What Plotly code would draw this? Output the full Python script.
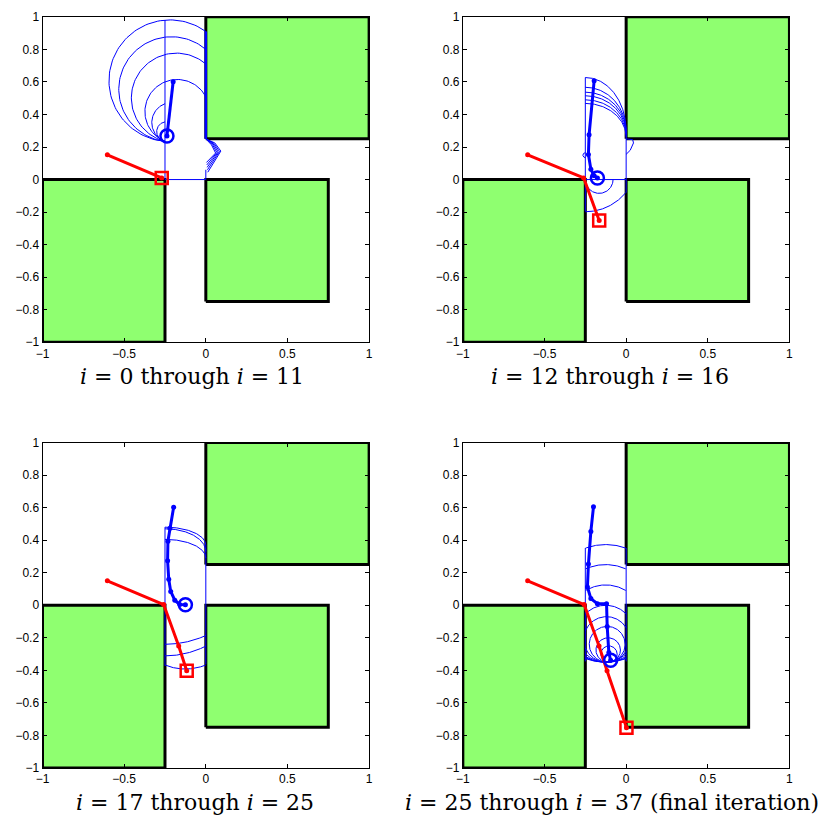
import numpy as np
import plotly.graph_objects as go

# ---------------- data ----------------
# obstacles (rectangles)
obs_x0 = [-1.0, 0.0, 0.0]
obs_x1 = [-0.25, 0.75, 1.0]
obs_y0 = [-1.0, -0.75, 0.25]
obs_y1 = [0.0, 0.0, 1.0]

x_tickvals = [-1, -0.5, 0, 0.5, 1]
x_ticktext = ["\u22121", "\u22120.5", "0", "0.5", "1"]
y_tickvals = [-1, -0.8, -0.6, -0.4, -0.2, 0, 0.2, 0.4, 0.6, 0.8, 1]
y_ticktext = ["\u22121", "\u22120.8", "\u22120.6", "\u22120.4", "\u22120.2", "0",
              "0.2", "0.4", "0.6", "0.8", "1"]

captions = [
    "<i>i</i> = 0 through <i>i</i> = 11",
    "<i>i</i> = 12 through <i>i</i> = 16",
    "<i>i</i> = 17 through <i>i</i> = 25",
    "<i>i</i> = 25 through <i>i</i> = 37 (final iteration)",
]

# red trajectories
red_x1 = [-0.603, -0.27]
red_y1 = [0.152, 0.01]
red_x2 = [-0.603, -0.26, -0.165]
red_y2 = [0.152, 0.01, -0.252]
red_x3 = [-0.603, -0.258, -0.166, -0.117]
red_y3 = [0.150, 0.004, -0.251, -0.402]
red_x4 = [-0.603, -0.257, -0.166, -0.117, 0.002]
red_y4 = [0.150, 0.004, -0.251, -0.402, -0.752]

# blue trajectories
blue_x1 = [-0.200, -0.238]
blue_y1 = [0.601, 0.268]
blue_x2 = [-0.196, -0.227, -0.231, -0.216, -0.196, -0.176]
blue_y2 = [0.607, 0.275, 0.154, 0.063, 0.023, 0.009]
blue_x3 = [-0.197, -0.220, -0.232, -0.234, -0.227, -0.215, -0.190, -0.160, -0.125]
blue_y3 = [0.603, 0.474, 0.394, 0.273, 0.160, 0.085, 0.031, 0.005, 0.003]
blue_x4 = [-0.200, -0.216, -0.231, -0.237, -0.216, -0.176, -0.120, -0.116, -0.106, -0.095]
blue_y4 = [0.605, 0.454, 0.253, 0.112, 0.041, 0.010, 0.010, -0.130, -0.291, -0.338]

# panel 1 region arcs (circles)
p1_cx = [-0.219, -0.210, -0.180, -0.175, -0.207, -0.240]
p1_cy = [0.607, 0.5545, 0.501, 0.417, 0.350, 0.2945]
p1_r = [0.374, 0.323, 0.276, 0.198, 0.124, 0.061]
p1_t0 = [54.2, 49.5, 49.3, 27.9, 110.3, 99.4]
p1_t1 = [265.25, 262.9, 255.3, 247.7, 249.7, 260.6]
p1_vx = [-0.25, 0.0, 0.0]
p1_vy0 = [0.0, 0.25, 0.0]
p1_vy1 = [0.98, 0.91, 0.06]
p1_hy = [0.0]
p1_hx0 = [-0.25]
p1_hx1 = [0.0]
p1_edge_x = [0.0, 0.0]          # region boundary lying on the obstacle edge
p1_edge_y = [0.25, 0.91]
p1_bulge_x = [
    [0.0, 0.055, 0.092, 0.012],
    [0.0, 0.050, 0.084, 0.010],
    [0.0, 0.045, 0.076, 0.008],
    [0.0, 0.040, 0.068, 0.006],
    [0.0, 0.035, 0.060, 0.004],
]
p1_bulge_y = [
    [0.25, 0.225, 0.175, 0.045],
    [0.25, 0.222, 0.172, 0.060],
    [0.25, 0.219, 0.169, 0.075],
    [0.25, 0.216, 0.166, 0.090],
    [0.25, 0.213, 0.163, 0.105],
]

# panel 2 region
p2_ell_top = [0.627, 0.567, 0.537, 0.515, 0.490, 0.468]
p2_ell_end = [0.300, 0.295, 0.290, 0.280, 0.270, 0.260]
p2_cx = [-0.25, -0.165, -0.25]
p2_cy = [0.122, 0.0, 0.15]
p2_r = [0.32, 0.085, 0.015]
p2_t0 = [270.0, 180.0, 90.0]
p2_t1 = [321.4, 360.0, 270.0]
p2_vx = [-0.25, 0.0]
p2_vy0 = [-0.195, -0.078]
p2_vy1 = [0.627, 0.30]
p2_hy = [0.0]
p2_hx0 = [-0.25]
p2_hx1 = [0.0]
p2_bulge_x = [[0.0, 0.04, 0.045, 0.025, 0.0]]
p2_bulge_y = [[0.25, 0.245, 0.225, 0.18, 0.155]]

# panel 3 region
p3_ell_top = [0.48, 0.47, 0.405]
p3_ell_end = [0.37, 0.33, 0.29]
p3_cx = [-0.25, -0.25, -0.125]
p3_cy = [0.366, 0.24, -0.067]
p3_r = [0.606, 0.551, 0.325]
p3_t0 = [270.0, 270.0, 247.4]
p3_t1 = [294.4, 297.0, 292.6]
p3_vx = [-0.25, 0.0]
p3_vy0 = [-0.372, -0.362]
p3_vy1 = [0.48, 0.37]

# panel 4 region (circles clipped to the corridor)
p4_cx = [-0.125, -0.125, -0.125, -0.125, -0.120, -0.116, -0.110, -0.105]
p4_cy = [0.0115, -0.050, -0.1125, -0.175, -0.210, -0.240, -0.275, -0.300]
p4_r = [0.3615, 0.300, 0.2375, 0.175, 0.140, 0.110, 0.075, 0.050]
p4_vx = [-0.25, 0.0]
p4_vy0 = [-0.345, -0.345]
p4_vy1 = [0.352, 0.352]

# ---------------- helpers ----------------
def arc(cx, cy, rx, ry, t0, t1, n=90):
    t = np.radians(np.linspace(t0, t1, n))
    return list(cx + rx * np.cos(t)), list(cy + ry * np.sin(t))


def region_trace(arcs, ells, vx, vy0, vy1, hy, hx0, hx1, bulges_x, bulges_y, circles=None):
    xs, ys = [], []
    for cx, cy, r, t0, t1 in arcs:
        ax, ay = arc(cx, cy, r, r, t0, t1)
        xs += ax + [None]
        ys += ay + [None]
    for top, end in ells:
        ax, ay = arc(-0.25, end, 0.25, top - end, 90, 0)
        xs += ax + [None]
        ys += ay + [None]
    for x, a, b in zip(vx, vy0, vy1):
        xs += [x, x, None]
        ys += [a, b, None]
    for y, a, b in zip(hy, hx0, hx1):
        xs += [a, b, None]
        ys += [y, y, None]
    for bx, by in zip(bulges_x, bulges_y):
        xs += list(bx) + [None]
        ys += list(by) + [None]
    if circles:
        for cx, cy, r in circles:
            t = np.radians(np.linspace(0, 360, 361))
            cxs = cx + r * np.cos(t)
            cys = cy + r * np.sin(t)
            for px, py in zip(cxs, cys):
                if -0.2505 <= px <= 0.0005 and py >= -0.352:
                    xs.append(px)
                    ys.append(py)
                else:
                    if xs and xs[-1] is not None:
                        xs.append(None)
                        ys.append(None)
            xs.append(None)
            ys.append(None)
    return xs, ys


fig = go.Figure()

panels = [
    dict(red=(red_x1, red_y1), blue=(blue_x1, blue_y1),
         region=region_trace(list(zip(p1_cx, p1_cy, p1_r, p1_t0, p1_t1)), [],
                             p1_vx, p1_vy0, p1_vy1, p1_hy, p1_hx0, p1_hx1,
                             p1_bulge_x, p1_bulge_y),
         edge=(p1_edge_x, p1_edge_y)),
    dict(red=(red_x2, red_y2), blue=(blue_x2, blue_y2),
         region=region_trace(list(zip(p2_cx, p2_cy, p2_r, p2_t0, p2_t1)),
                             list(zip(p2_ell_top, p2_ell_end)),
                             p2_vx, p2_vy0, p2_vy1, p2_hy, p2_hx0, p2_hx1,
                             p2_bulge_x, p2_bulge_y)),
    dict(red=(red_x3, red_y3), blue=(blue_x3, blue_y3),
         region=region_trace(list(zip(p3_cx, p3_cy, p3_r, p3_t0, p3_t1)),
                             list(zip(p3_ell_top, p3_ell_end)),
                             p3_vx, p3_vy0, p3_vy1, [], [], [], [], [])),
    dict(red=(red_x4, red_y4), blue=(blue_x4, blue_y4),
         region=region_trace([], [], p4_vx, p4_vy0, p4_vy1, [], [], [], [], [],
                             circles=list(zip(p4_cx, p4_cy, p4_r)))),
]

W, H = 826, 832
left_px = [36, 462, 36, 462]
top_px = [10, 10, 443, 443]
size_px = 331
cap_x = [187, 611, 191, 613]
cap_top = [361, 361, 794, 794]

GREEN = "rgb(143,255,112)"
BLUE = "rgb(0,0,255)"
RED = "rgb(255,0,0)"

for i, p in enumerate(panels):
    n = i + 1
    xa = "x" if n == 1 else f"x{n}"
    ya = "y" if n == 1 else f"y{n}"
    # obstacles
    for x0, x1, y0, y1 in zip(obs_x0, obs_x1, obs_y0, obs_y1):
        fig.add_trace(go.Scatter(x=[x0, x1, x1, x0, x0], y=[y0, y0, y1, y1, y0],
                                 mode="lines", fill="toself", fillcolor=GREEN,
                                 line=dict(color="black", width=3),
                                 xaxis=xa, yaxis=ya, showlegend=False, hoverinfo="skip"))
    # region boundary along an obstacle edge (drawn over the black border)
    if "edge" in p:
        fig.add_trace(go.Scatter(x=p["edge"][0], y=p["edge"][1], mode="lines",
                                 line=dict(color=BLUE, width=2.5),
                                 xaxis=xa, yaxis=ya, showlegend=False, hoverinfo="skip"))
    # region boundaries
    rx, ry = p["region"]
    fig.add_trace(go.Scatter(x=rx, y=ry, mode="lines",
                             line=dict(color=BLUE, width=1),
                             xaxis=xa, yaxis=ya, showlegend=False, hoverinfo="skip"))
    # red trajectory
    fig.add_trace(go.Scatter(x=p["red"][0], y=p["red"][1], mode="lines+markers",
                             line=dict(color=RED, width=3),
                             marker=dict(color=RED, size=5),
                             xaxis=xa, yaxis=ya, showlegend=False))
    fig.add_trace(go.Scatter(x=[p["red"][0][-1]], y=[p["red"][1][-1]], mode="markers",
                             marker=dict(symbol="square-open", color=RED, size=12,
                                         line=dict(width=2.5, color=RED)),
                             xaxis=xa, yaxis=ya, showlegend=False))
    # blue trajectory
    fig.add_trace(go.Scatter(x=p["blue"][0], y=p["blue"][1], mode="lines+markers",
                             line=dict(color=BLUE, width=3),
                             marker=dict(color=BLUE, size=5),
                             xaxis=xa, yaxis=ya, showlegend=False))
    fig.add_trace(go.Scatter(x=[p["blue"][0][-1]], y=[p["blue"][1][-1]], mode="markers",
                             marker=dict(symbol="circle-open", color=BLUE, size=13,
                                         line=dict(width=2.5, color=BLUE)),
                             xaxis=xa, yaxis=ya, showlegend=False))

    axis_common = dict(range=[-1, 1], showgrid=False, zeroline=False,
                       ticks="inside", ticklen=4, tickwidth=1, tickcolor="black",
                       showline=True, linecolor="black", linewidth=1, mirror="allticks",
                       tickfont=dict(family="Liberation Sans, Arial, sans-serif", size=12,
                                     color="black"),
                       fixedrange=True)
    lp = left_px[i]
    tp = top_px[i]
    xdom = [lp / W, (lp + size_px) / W]
    ydom = [(H - tp - size_px) / H, (H - tp) / H]
    fig.layout[f"xaxis{'' if n == 1 else n}"] = dict(
        axis_common, domain=xdom, anchor=ya, tickmode="array",
        tickvals=x_tickvals, ticktext=x_ticktext)
    fig.layout[f"yaxis{'' if n == 1 else n}"] = dict(
        axis_common, domain=ydom, anchor=xa, tickmode="array",
        tickvals=y_tickvals, ticktext=y_ticktext)

    fig.add_annotation(x=cap_x[i] / W, y=(H - cap_top[i]) / H,
                       xref="paper", yref="paper",
                       text=captions[i], showarrow=False, xanchor="center", yanchor="top",
                       font=dict(family="DejaVu Serif, serif", size=22, color="black"))

fig.update_layout(width=W, height=H, margin=dict(l=0, r=0, t=0, b=0),
                  plot_bgcolor="white", paper_bgcolor="white", showlegend=False)

fig.write_html("out.html")
